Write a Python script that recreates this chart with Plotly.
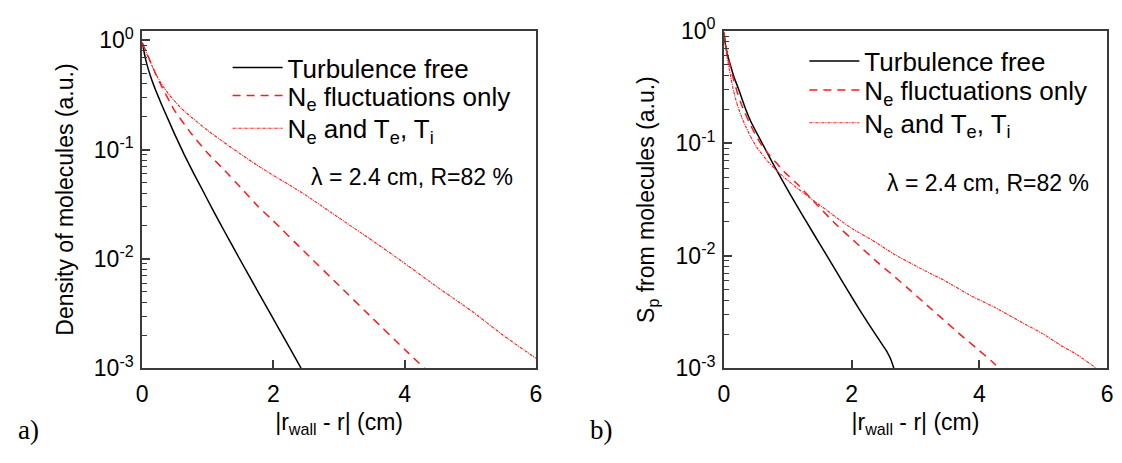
import plotly.graph_objects as go

W, H = 1122, 463

# ---------------- data ----------------
# panel a) density of molecules
a_free_x = [0, 0.05, 0.1, 0.15, 0.2, 0.29, 0.4, 0.49, 0.64, 0.79, 0.94, 1.07, 1.25, 1.47, 1.75, 1.97, 2.2, 2.42]
a_free_y = [0.95, 0.676, 0.525, 0.427, 0.355, 0.263, 0.186, 0.140, 0.090, 0.0596, 0.0403, 0.0285, 0.0180, 0.01035, 0.00519, 0.00302, 0.00172, 0.001]

a_ne_x = [0, 0.05, 0.11, 0.2, 0.29, 0.49, 0.74, 0.995, 1.25, 1.52, 1.77, 2.0, 2.5, 3.0, 3.5, 4.0, 4.3]
a_ne_y = [0.95, 0.81, 0.67, 0.50, 0.385, 0.229, 0.142, 0.093, 0.065, 0.0437, 0.030, 0.0222, 0.0112, 0.0057, 0.0029, 0.00148, 0.001]

a_all_x = [0, 0.05, 0.11, 0.2, 0.28, 0.34, 0.42, 0.49, 0.6, 0.74, 0.995, 1.25, 1.5, 1.75, 2.0, 2.23, 2.5, 3.0, 3.5, 4.0, 4.5, 5.0, 5.5, 6.0]
a_all_y = [0.95, 0.80, 0.66, 0.50, 0.412, 0.363, 0.313, 0.279, 0.237, 0.200, 0.150, 0.116, 0.091, 0.072, 0.058, 0.048, 0.038, 0.0237, 0.0148, 0.0091, 0.0055, 0.0034, 0.0020, 0.00123]

# panel b) particle source from molecules
b_free_x = [0, 0.025, 0.06, 0.1, 0.15, 0.227, 0.33, 0.434, 0.537, 0.666, 0.795, 0.925, 1.054, 1.21, 1.39, 1.59, 1.75, 1.95, 2.11, 2.27, 2.42, 2.55, 2.62, 2.66]
b_free_y = [0.97, 0.75, 0.60, 0.50, 0.40, 0.306, 0.209, 0.151, 0.117, 0.085, 0.062, 0.0457, 0.0339, 0.0240, 0.0162, 0.0105, 0.0074, 0.0048, 0.0034, 0.00245, 0.00182, 0.00141, 0.00117, 0.001]

b_ne_x = [0, 0.025, 0.07, 0.13, 0.2, 0.26, 0.3, 0.41, 0.51, 0.61, 0.72, 0.925, 1.18, 1.47, 1.78, 2.06, 2.37, 2.66, 2.94, 3.2, 3.46, 3.72, 3.97, 4.18, 4.31]
b_ne_y = [0.97, 0.76, 0.56, 0.41, 0.295, 0.234, 0.204, 0.148, 0.115, 0.093, 0.078, 0.0575, 0.0417, 0.0279, 0.0184, 0.0132, 0.0091, 0.0066, 0.0048, 0.00355, 0.00263, 0.00195, 0.00148, 0.00117, 0.001]

b_all_x = [0, 0.02, 0.05, 0.1, 0.15, 0.2, 0.28, 0.35, 0.41, 0.51, 0.67, 0.82, 0.98, 1.13, 1.29, 1.44, 1.6, 1.7, 2.01, 2.32, 2.68, 2.94, 3.2, 3.46, 3.87, 4.23, 4.49, 4.75, 5.01, 5.27, 5.52, 5.83]
b_all_y = [0.97, 0.80, 0.58, 0.41, 0.295, 0.229, 0.170, 0.138, 0.117, 0.093, 0.071, 0.0575, 0.0479, 0.0407, 0.0347, 0.0299, 0.0257, 0.0232, 0.0174, 0.0138, 0.0102, 0.0085, 0.0071, 0.0060, 0.0044, 0.0035, 0.0029, 0.0024, 0.0020, 0.0016, 0.00133, 0.001]

series_names = ["Turbulence free",
                "N<sub>e</sub> fluctuations only",
                "N<sub>e</sub> and T<sub>e</sub>, T<sub>i</sub>"]

x_ticks = [0, 2, 4, 6]
y_ticks = [1, 0.1, 0.01, 0.001]
y_tick_text = ["10<sup>0</sup>", "10<sup>-1</sup>", "10<sup>-2</sup>", "10<sup>-3</sup>"]
y_minor = [m * 10.0 ** e for e in (-3, -2, -1) for m in range(2, 10)]

x_title = "|r<sub>wall</sub> - r| (cm)"
y_title_a = "Density of molecules (a.u.)"
y_title_b = "S<sub>p</sub> from molecules (a.u.)"
note = "\u03bb = 2.4 cm, R=82 %"

# ---------------- styling ----------------
FONT = "Liberation Sans, Arial, Helvetica, sans-serif"
SERIF = "Liberation Serif, Times New Roman, serif"
AX = "#3a3a3a"
RED = "#ff1a1a"
styles = [dict(color="black", width=1.5, dash="solid"),
          dict(color=RED, width=1.5, dash="8px,6px"),
          dict(color=RED, width=1.1, dash="3px,1px,1px,1px")]

# one legend per entry so that every row sits where the reference puts it
legend_ids = [["legend", "legend2", "legend3"], ["legend4", "legend5", "legend6"]]
legend_tops = [[29, 59, 94], [22, 53, 88]]      # px from top of figure
legend_left = [292 - 68, 875 - 68]              # px from left of figure

fig = go.Figure()

panels = [
    ("x", "y", [(a_free_x, a_free_y), (a_ne_x, a_ne_y), (a_all_x, a_all_y)]),
    ("x2", "y2", [(b_free_x, b_free_y), (b_ne_x, b_ne_y), (b_all_x, b_all_y)]),
]
for p, (xa, ya, curves) in enumerate(panels):
    for k, ((xs, ys), name, st) in enumerate(zip(curves, series_names, styles)):
        fig.add_trace(go.Scatter(x=xs, y=ys, mode="lines", name=name,
                                 line=dict(shape="spline", smoothing=0.4, **st),
                                 xaxis=xa, yaxis=ya, legend=legend_ids[p][k]))

def xaxis(domain, anchor):
    return dict(domain=domain, anchor=anchor, range=[0, 6], tickvals=x_ticks,
                ticks="inside", ticklen=8, tickwidth=1.5, tickcolor=AX,
                showline=True, linecolor=AX, linewidth=1.8, mirror=True,
                showgrid=False, zeroline=False, ticklabelstandoff=4,
                tickfont=dict(size=23, color="black", family=FONT),
                title=dict(text=x_title, font=dict(size=23, color="black", family=FONT), standoff=8))

def yaxis(domain, anchor, rng, title):
    return dict(domain=domain, anchor=anchor, type="log", range=rng,
                tickvals=y_ticks, ticktext=y_tick_text,
                ticks="inside", ticklen=8, tickwidth=1.5, tickcolor=AX,
                minor=dict(tickvals=y_minor, ticks="inside", ticklen=5, tickwidth=1.2,
                           tickcolor=AX, showgrid=False),
                showline=True, linecolor=AX, linewidth=1.8, mirror=True,
                showgrid=False, zeroline=False, ticklabelstandoff=2,
                tickfont=dict(size=23, color="black", family=FONT),
                title=dict(text=title, font=dict(size=23, color="black", family=FONT), standoff=14))

ydom = [1 - 375.5 / H, 1 - 15 / H]
leg_common = dict(bgcolor="rgba(0,0,0,0)", borderwidth=0, xanchor="left", yanchor="top",
                  font=dict(size=26, color="black", family=FONT), tracegroupgap=0,
                  itemwidth=50, itemclick=False, itemdoubleclick=False)

legends = {}
for p in range(2):
    for k in range(3):
        legends[legend_ids[p][k]] = dict(x=legend_left[p] / W, y=1 - legend_tops[p][k] / H, **leg_common)

fig.update_layout(
    width=W, height=H,
    margin=dict(l=0, r=0, t=0, b=0),
    paper_bgcolor="white", plot_bgcolor="white",
    font=dict(family=FONT, color="black"),
    xaxis=xaxis([137.7 / W, 535.7 / W], "y"),
    yaxis=yaxis(ydom, "x", [-3, 0.085], y_title_a),
    xaxis2=xaxis([725.7 / W, 1113.0 / W], "y2"),
    yaxis2=yaxis(ydom, "x2", [-3, 0.0], y_title_b),
    showlegend=True,
    annotations=[
        dict(text=note, xref="paper", yref="paper", x=514 / W, y=1 - 171 / H,
             xanchor="right", yanchor="middle", showarrow=False,
             font=dict(size=23, color="black", family=FONT)),
        dict(text=note, xref="paper", yref="paper", x=1097 / W, y=1 - 177 / H,
             xanchor="right", yanchor="middle", showarrow=False,
             font=dict(size=23, color="black", family=FONT)),
        dict(text="a)", xref="paper", yref="paper", x=10 / W, y=1 - 442 / H,
             xanchor="left", yanchor="middle", showarrow=False,
             font=dict(size=27, color="black", family=SERIF)),
        dict(text="b)", xref="paper", yref="paper", x=588 / W, y=1 - 442 / H,
             xanchor="left", yanchor="middle", showarrow=False,
             font=dict(size=27, color="black", family=SERIF)),
    ],
)
fig.update_layout(**legends)

fig.write_html("out.html")
